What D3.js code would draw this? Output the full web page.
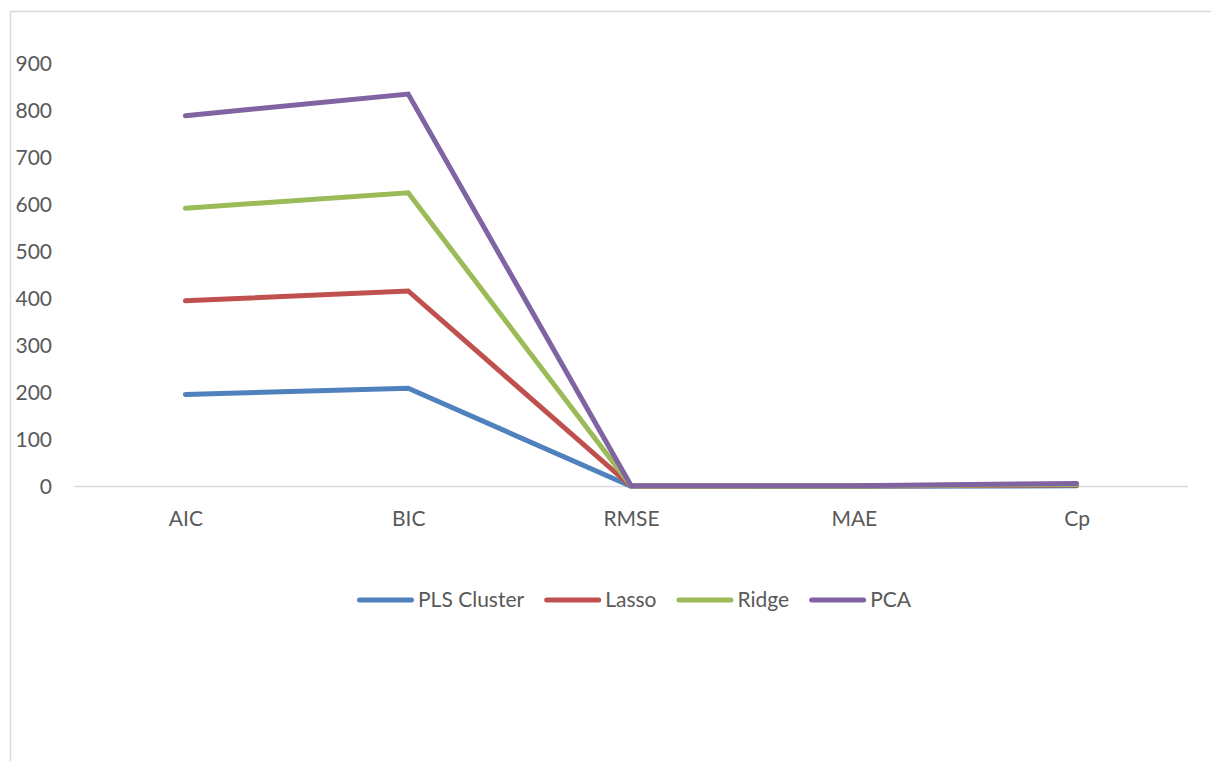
<!DOCTYPE html>
<html>
<head>
<meta charset="utf-8">
<script src="https://cdn.jsdelivr.net/npm/d3@7"></script>
<style>
  body { margin: 0; background: #fff; }
  text { font-family: Lato, "Open Sans", sans-serif; fill: #595959; }
</style>
</head>
<body>
<div id="wrapper"></div>
<script>
// data (values per series, drawn stacked like the Excel stacked line chart)
const categories = ["AIC", "BIC", "RMSE", "MAE", "Cp"];
const seriesNames = ["PLS Cluster", "Lasso", "Ridge", "PCA"];
const plsCluster = [196, 209, 0.5, 0.4, 1.5];
const lasso = [199, 207, 0.5, 0.4, 1.5];
const ridge = [197, 209, 0.5, 0.4, 1.5];
const pca = [197, 210, 0.5, 0.4, 2];
const yTicks = [0, 100, 200, 300, 400, 500, 600, 700, 800, 900];
const colors = ["#4F81BD", "#C0504D", "#9BBB59", "#8064A2"];

function drawChart() {
  const width = 1211;
  const height = 761;
  const fontSize = 21;

  const svg = d3.select("#wrapper")
    .append("svg")
      .attr("width", width)
      .attr("height", height);

  // chart frame (cut off on right/bottom like the screenshot)
  svg.append("rect")
      .attr("x", 10.5)
      .attr("y", 11.5)
      .attr("width", width + 20)
      .attr("height", height + 20)
      .attr("fill", "none")
      .attr("stroke", "#d9d9d9")
      .attr("stroke-width", 1.5);

  const table = categories.map((c, i) => ({
    cat: c,
    "PLS Cluster": plsCluster[i],
    "Lasso": lasso[i],
    "Ridge": ridge[i],
    "PCA": pca[i],
  }));
  const stacked = d3.stack().keys(seriesNames)(table);

  const xScale = d3.scalePoint()
    .domain(categories)
    .range([74, 1188])
    .padding(0.5);

  const yScale = d3.scaleLinear()
    .domain([0, 900])
    .range([486.5, 63.5]);

  // y axis labels
  const yAxis = svg.append("g")
      .attr("transform", "translate(52,0)")
    .call(d3.axisLeft(yScale).tickValues(yTicks).tickSize(0).tickPadding(0));
  yAxis.select(".domain").remove();
  yAxis.selectAll("text")
      .attr("font-size", fontSize)
      .attr("font-family", "Lato, 'Open Sans', sans-serif")
      .attr("fill", "#595959");

  // baseline
  svg.append("line")
      .attr("x1", 74)
      .attr("x2", 1188)
      .attr("y1", yScale(0))
      .attr("y2", yScale(0))
      .attr("stroke", "#d9d9d9")
      .attr("stroke-width", 1.5);

  // x labels
  const xAxis = svg.append("g")
      .attr("transform", `translate(0,${yScale(0)})`)
    .call(d3.axisBottom(xScale).tickSize(0).tickPadding(25));
  xAxis.select(".domain").remove();
  xAxis.selectAll("text")
      .attr("font-size", fontSize)
      .attr("font-family", "Lato, 'Open Sans', sans-serif")
      .attr("fill", "#595959");

  // lines
  const lineGen = d3.line()
    .x(d => xScale(d.data.cat))
    .y(d => yScale(d[1]));

  svg.append("g")
    .selectAll("path")
    .data(stacked)
    .join("path")
      .attr("d", lineGen)
      .attr("fill", "none")
      .attr("stroke", (d, i) => colors[i])
      .attr("stroke-width", 5)
      .attr("stroke-linecap", "round")
      .attr("stroke-linejoin", "miter");

  // legend, laid out from the text widths and centred under the plot
  const swatch = 57, gap = 4, spacing = 20;
  const legend = svg.append("g")
      .attr("transform", "translate(0,600)");
  const items = legend.selectAll("g")
    .data(seriesNames)
    .join("g");
  items.append("line")
      .attr("x1", 2.5)
      .attr("x2", swatch - 2.5)
      .attr("stroke", (d, i) => colors[i])
      .attr("stroke-width", 5)
      .attr("stroke-linecap", "round");
  items.append("text")
      .attr("x", swatch + gap)
      .attr("dy", "0.35em")
      .attr("font-size", fontSize)
      .text(d => d);

  let offset = 0;
  const offsets = [];
  items.each(function() {
    offsets.push(offset);
    const w = d3.select(this).select("text").node().getComputedTextLength();
    offset += swatch + gap + w + spacing;
  });
  const total = offset - spacing;
  const startX = 634 - total / 2;
  items.attr("transform", (d, i) => `translate(${startX + offsets[i]},0)`);
}
drawChart();
</script>
</body>
</html>
